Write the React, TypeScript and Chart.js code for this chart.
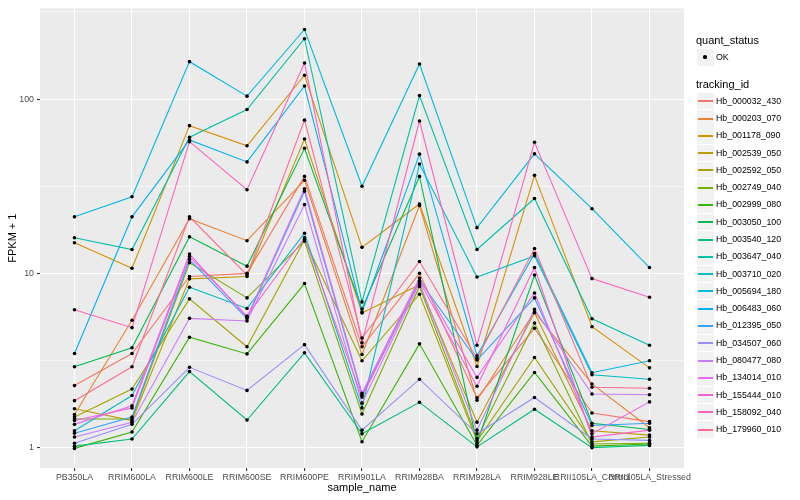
import React, { useEffect, useRef } from "react";
import { Chart, registerables } from "chart.js";
Chart.register(...registerables);

const samples = [
  "PB350LA", "RRIM600LA", "RRIM600LE", "RRIM600SE", "RRIM600PE", "RRIM901LA",
  "RRIM928BA", "RRIM928LA", "RRIM928LE", "RRII105LA_Control", "RRII105LA_Stressed",
];

const trackingIds = [
  "Hb_000032_430", "Hb_000203_070", "Hb_001178_090", "Hb_002539_050", "Hb_002592_050",
  "Hb_002749_040", "Hb_002999_080", "Hb_003050_100", "Hb_003540_120", "Hb_003647_040",
  "Hb_003710_020", "Hb_005694_180", "Hb_006483_060", "Hb_012395_050", "Hb_034507_060",
  "Hb_080477_080", "Hb_134014_010", "Hb_155444_010", "Hb_158092_040", "Hb_179960_010",
];

const colors = [
  "#F8766D", "#EA8331", "#D89000", "#C09B00", "#A3A500", "#7CAE00", "#39B600", "#00BB4E",
  "#00BF7D", "#00C1A3", "#00BFC4", "#00BAE0", "#00B0F6", "#35A2FF", "#9590FF", "#C77CFF",
  "#E76BF3", "#FA62DB", "#FF62BC", "#FF6C90",
];

// FPKM + 1 per sample, in the order of `samples`
const hb000032 = [2.27, 3.47, 9.6, 10.0, 36, 3.79, 10.0, 1.93, 4.84, 1.58, 1.41];
const hb000203 = [1.55, 5.38, 20.6, 15.4, 34.2, 3.42, 24.5, 1.87, 6.0, 2.32, 1.30];
const hb001178 = [15.0, 10.7, 70.4, 54, 137, 14.1, 25, 2.92, 36.5, 4.94, 2.87];
const hb002539 = [1.67, 1.43, 9.3, 9.6, 59, 5.92, 8.6, 1.40, 5.94, 1.25, 1.18];
const hb002592 = [1.50, 2.17, 7.14, 3.79, 15.6, 3.15, 7.59, 1.09, 3.29, 1.08, 1.15];
const hb002749 = [1.46, 1.46, 11.5, 7.23, 15.3, 1.56, 8.4, 1.13, 5.19, 1.05, 1.06];
const hb002999 = [0.99, 1.23, 4.30, 3.45, 8.74, 1.08, 3.94, 1.03, 2.70, 1.02, 1.05];
const hb003050 = [2.91, 3.74, 16.2, 11.0, 52.2, 6.24, 36, 1.06, 9.78, 1.38, 1.27];
const hb003540 = [1.02, 1.12, 2.73, 1.44, 3.5, 1.20, 1.82, 1.01, 1.66, 1.0, 1.03];
const hb003647 = [16.0, 13.7, 60.4, 87.1, 222, 6.86, 104.7, 13.7, 26.9, 5.49, 3.87];
const hb003710 = [1.25, 1.99, 8.32, 6.29, 17.0, 1.69, 42.4, 9.53, 12.6, 2.62, 2.47];
const hb005694 = [21.1, 27.5, 164, 104, 251, 31.6, 159, 18.3, 48.5, 23.5, 10.8];
const hb006483 = [3.47, 21.1, 58.3, 43.6, 119, 6.0, 48.3, 3.37, 13.0, 2.69, 3.15];
const hb012395 = [1.21, 1.50, 12.0, 5.5, 29.6, 2.0, 9.1, 3.18, 7.23, 1.34, 1.38];
const hb034507 = [1.06, 1.36, 2.89, 2.13, 3.9, 1.26, 2.47, 1.20, 1.94, 1.12, 1.10];
const hb080477 = [1.15, 1.40, 5.52, 5.33, 24.8, 1.80, 8.8, 1.26, 6.21, 2.03, 2.01];
const hb134014 = [1.36, 1.74, 12.9, 5.6, 30.6, 2.05, 9.4, 2.53, 7.72, 1.20, 1.83];
const hb155444 = [1.43, 1.69, 12.5, 5.69, 16.0, 1.95, 9.0, 2.25, 10.8, 1.15, 1.26];
const hb158092 = [6.18, 4.88, 57, 30.2, 161, 4.0, 74.8, 3.87, 56.5, 9.33, 7.30];
const hb179960 = [1.86, 2.91, 21.1, 9.8, 75.7, 4.25, 11.7, 3.25, 13.9, 2.22, 2.19];

const seriesValues = [
  hb000032, hb000203, hb001178, hb002539, hb002592, hb002749, hb002999, hb003050,
  hb003540, hb003647, hb003710, hb005694, hb006483, hb012395, hb034507, hb080477,
  hb134014, hb155444, hb158092, hb179960,
];

const yMajorTicks = [1, 10, 100];
const yMinorTicks = [3.1623, 31.623, 316.23];

const FONT = '"Liberation Sans", Arial, Helvetica, sans-serif';

const panelBg = {
  id: "panelBg",
  beforeDraw(chart: any) {
    const { ctx, chartArea } = chart;
    const { left, top, right, bottom } = chartArea;
    ctx.save();
    ctx.fillStyle = "#EBEBEB";
    ctx.fillRect(left, top, right - left, bottom - top);
    ctx.restore();
  },
};

export default function App() {
  const ref = useRef<HTMLCanvasElement>(null);

  useEffect(() => {
    Chart.defaults.font.family = FONT;
    const lineSets = seriesValues.map((vals, i) => ({
      type: "line",
      label: trackingIds[i],
      data: vals.map((v, j) => ({ x: j, y: v })),
      borderColor: colors[i],
      backgroundColor: colors[i],
      borderWidth: 1.1,
      pointRadius: 0,
      tension: 0,
      order: 20 - i,
    }));
    const pointSet = {
      type: "scatter",
      label: "OK",
      data: seriesValues.flatMap((vals) => vals.map((v, j) => ({ x: j, y: v }))),
      pointRadius: 1.8,
      backgroundColor: "#000000",
      borderWidth: 0,
      showLine: false,
      order: 0,
    };
    const chart = new Chart(ref.current as HTMLCanvasElement, {
      type: "line",
      data: { datasets: [...lineSets, pointSet] as any },
      plugins: [panelBg],
      options: {
        animation: false,
        responsive: false,
        layout: { padding: { left: 0, top: 5, right: 116, bottom: 0 } },
        plugins: { legend: { display: false }, tooltip: { enabled: false } },
        scales: {
          x: {
            type: "linear",
            min: -0.6,
            max: 10.6,
            afterBuildTicks: (s: any) => {
              s.ticks = samples.map((_, i) => ({ value: i }));
            },
            afterFit: (s: any) => {
              s.height = 32;
            },
            ticks: {
              autoSkip: false,
              maxRotation: 0,
              minRotation: 0,
              color: "#4D4D4D",
              font: { size: 8.8, family: FONT },
              padding: 1.5,
              callback: (v: any) => samples[v] ?? "",
            },
            grid: { color: "#FFFFFF", lineWidth: 1.1, tickColor: "#333333", tickLength: 3 },
            border: { display: false },
            title: {
              display: true,
              text: "sample_name",
              color: "#000000",
              font: { size: 11, family: FONT },
              padding: { top: 0, bottom: 5 },
            },
          },
          y: {
            type: "logarithmic",
            min: 0.764,
            max: 332,
            afterBuildTicks: (s: any) => {
              s.ticks = [...yMajorTicks, ...yMinorTicks]
                .sort((a, b) => a - b)
                .map((v) => ({ value: v, major: yMajorTicks.includes(v) }));
            },
            afterFit: (s: any) => {
              s.width = 40;
            },
            ticks: {
              autoSkip: false,
              color: "#4D4D4D",
              font: { size: 8.8, family: FONT },
              padding: 3,
              callback: (v: any) => (yMajorTicks.includes(v) ? String(v) : ""),
            },
            grid: {
              color: "#FFFFFF",
              lineWidth: (c: any) => (c.tick && yMajorTicks.includes(c.tick.value) ? 1.1 : 0.55),
              tickColor: (c: any) =>
                c.tick && yMajorTicks.includes(c.tick.value) ? "#333333" : "rgba(0,0,0,0)",
              tickLength: 3,
            },
            border: { display: false },
            title: {
              display: true,
              text: "FPKM + 1",
              color: "#000000",
              font: { size: 11, family: FONT },
              padding: { top: 6, bottom: 0 },
            },
          },
        },
      } as any,
    });
    return () => chart.destroy();
  }, []);

  const rowH = 17.28;
  const legendText: React.CSSProperties = {
    position: "absolute",
    fontFamily: FONT,
    color: "#000",
    whiteSpace: "nowrap",
  };

  return (
    <div style={{ position: "absolute", left: 0, top: 0, width: 800, height: 500, background: "#fff" }}>
      <canvas ref={ref} width={800} height={500} style={{ width: 800, height: 500, display: "block" }} />
      <div style={{ ...legendText, left: 696, top: 33, fontSize: 11, lineHeight: "14px" }}>quant_status</div>
      <div style={{ position: "absolute", left: 697, top: 49, width: 16.5, height: 16.5, background: "#F2F2F2" }}>
        <div style={{ position: "absolute", left: 6.4, top: 6.4, width: 3.7, height: 3.7, borderRadius: "50%", background: "#000" }} />
      </div>
      <div style={{ ...legendText, left: 716, top: 49, fontSize: 8.8, lineHeight: "17px" }}>OK</div>
      <div style={{ ...legendText, left: 696, top: 77, fontSize: 11, lineHeight: "14px" }}>tracking_id</div>
      {trackingIds.map((id, i) => {
        const top = 92.8 + rowH * i;
        const lineTop = Math.round(top + 8.25 - 0.75);
        return (
          <React.Fragment key={id}>
            <div
              style={{
                position: "absolute",
                left: 697,
                top,
                width: 16.5,
                height: 16.5,
                background: "#F2F2F2",
              }}
            />
            <div
              style={{
                position: "absolute",
                left: 698,
                top: lineTop,
                width: 15,
                height: 1.5,
                background: colors[i],
              }}
            />
            <div style={{ ...legendText, left: 716, top, fontSize: 8.8, lineHeight: "17px" }}>{id}</div>
          </React.Fragment>
        );
      })}
    </div>
  );
}
